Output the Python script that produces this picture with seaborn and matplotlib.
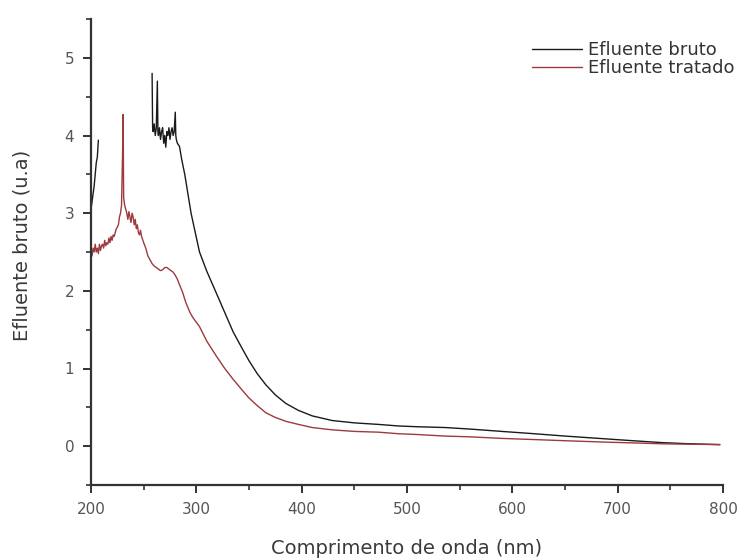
import numpy as np
import pandas as pd
import matplotlib
matplotlib.use("Agg")
import matplotlib.pyplot as plt
import seaborn as sns
from matplotlib.ticker import MultipleLocator

# ---- data ----
bruto_a_nm = [200, 201, 202, 203, 204, 205, 206, 207]
bruto_a_val = [3.05, 3.15, 3.25, 3.35, 3.5, 3.65, 3.72, 3.94]

bruto_b_nm = [258, 258.5, 259, 260, 261, 262, 263, 263.5, 264, 265, 266, 267, 268, 269,
              270, 271, 272, 273, 274, 275, 276, 277, 278, 279, 280, 280.5, 281, 282,
              284, 286, 289, 292, 295, 299, 303, 310, 319, 327, 335, 343, 350, 358,
              366, 375, 385, 397, 410, 429, 450, 473, 492, 510, 536, 560, 590, 621,
              650, 693, 720, 743, 770, 797]
bruto_b_val = [4.8, 4.1, 4.05, 4.15, 4.0, 4.1, 4.7, 4.05, 4.0, 4.1, 3.95, 4.05, 4.1, 3.9,
               4.0, 3.85, 4.05, 4.0, 4.1, 3.95, 4.05, 4.1, 4.0, 4.05, 4.3, 4.0, 3.95, 3.9,
               3.86, 3.7, 3.5, 3.25, 3.0, 2.75, 2.5, 2.25, 1.97, 1.72, 1.47, 1.27, 1.1, 0.93,
               0.79, 0.66, 0.55, 0.46, 0.39, 0.33, 0.3, 0.28, 0.26, 0.25, 0.24, 0.22, 0.19, 0.16,
               0.13, 0.09, 0.065, 0.045, 0.03, 0.02]

tratado_nm = [200, 201, 202, 203, 204, 205, 206, 207, 208, 209, 210, 211, 212, 213, 214,
              215, 216, 217, 218, 219, 220, 221, 222, 223, 224, 225, 226, 227, 228, 229,
              230, 230.5, 231, 232, 233, 234, 235, 236, 237, 238, 239, 240, 241, 242, 243,
              244, 245, 246, 247, 248, 250, 252, 254, 256, 258, 260, 262, 264, 266, 268,
              270, 272, 274, 276, 278, 280, 282, 284, 287, 290, 294, 297, 303, 310, 319,
              327, 335, 343, 350, 358, 366, 375, 385, 397, 410, 429, 450, 473, 492, 510,
              536, 560, 590, 621, 650, 693, 720, 743, 770, 797]
tratado_val = [2.5, 2.45, 2.55, 2.5, 2.6, 2.5, 2.55, 2.48, 2.6, 2.52, 2.58, 2.6, 2.55, 2.65, 2.58,
               2.62, 2.6, 2.68, 2.62, 2.7, 2.65, 2.72, 2.7, 2.75, 2.8, 2.82, 2.85, 2.95, 3.0, 3.1,
               3.8, 4.27, 3.2, 3.1, 3.05, 3.0, 2.92, 3.02, 2.95, 2.88, 3.0, 2.95, 2.85, 2.92, 2.8,
               2.85, 2.75, 2.72, 2.78, 2.7, 2.62, 2.55, 2.45, 2.4, 2.35, 2.32, 2.3, 2.28, 2.26, 2.27,
               2.3, 2.3, 2.28, 2.26, 2.24, 2.2, 2.15, 2.08, 1.98, 1.85, 1.72, 1.65, 1.54, 1.35, 1.16,
               1.0, 0.86, 0.73, 0.62, 0.52, 0.43, 0.37, 0.32, 0.28, 0.24, 0.21, 0.19, 0.18, 0.16, 0.15,
               0.13, 0.12, 0.1, 0.085, 0.07, 0.05, 0.04, 0.03, 0.025, 0.02]

x_ticks = [200, 300, 400, 500, 600, 700, 800]
y_ticks = [0, 1, 2, 3, 4, 5]

# ---- plot ----
sns.set_style("ticks")
plt.rcParams["font.family"] = ["DejaVu Sans"]

W, H = 746, 559
fig = plt.figure(figsize=(W / 100, H / 100), dpi=100)
ax = fig.add_axes([91 / W, 1 - 485 / H, (723 - 91) / W, (485 - 19) / H])

black = "#1a1a1a"
red = "#9c3a3e"

sns.lineplot(x=bruto_a_nm, y=bruto_a_val, ax=ax, color=black, lw=1.0, estimator=None, sort=False)
sns.lineplot(x=bruto_b_nm, y=bruto_b_val, ax=ax, color=black, lw=1.0, estimator=None, sort=False,
             label="Efluente bruto")
sns.lineplot(x=tratado_nm, y=tratado_val, ax=ax, color=red, lw=1.0, estimator=None, sort=False,
             label="Efluente tratado")

ax.set_xlim(200, 800)
ax.set_ylim(-0.5, 5.5)
ax.set_xticks(x_ticks)
ax.set_yticks(y_ticks)
ax.xaxis.set_minor_locator(MultipleLocator(50))
ax.yaxis.set_minor_locator(MultipleLocator(0.5))
ax.tick_params(axis="both", which="major", direction="out", length=6, width=1.4,
               labelsize=11, labelcolor="#555555", color="#333333", pad=6)
ax.tick_params(axis="both", which="minor", direction="out", length=3.5, width=1.2, color="#333333")

for s in ["top", "right"]:
    ax.spines[s].set_visible(False)
for s in ["left", "bottom"]:
    ax.spines[s].set_linewidth(1.6)
    ax.spines[s].set_color("#333333")

ax.set_xlabel("")
ax.set_ylabel("")
fig.text(407 / W, 1 - 548 / H, "Comprimento de onda (nm)", fontsize=14, color="#3a3a3a",
         ha="center", va="center")
fig.text(22 / W, 1 - 245 / H, "Efluente bruto (u.a)", fontsize=14, color="#3a3a3a",
         ha="center", va="center", rotation=90)

leg = ax.legend(loc="upper left", bbox_to_anchor=(532 / W, 1 - 41 / H),
                bbox_transform=fig.transFigure, frameon=False, fontsize=13,
                handlelength=2.75, handletextpad=0.35, labelspacing=0.0,
                borderpad=0, borderaxespad=0)
for t in leg.get_texts():
    t.set_color("#333333")

fig.savefig("out.png", dpi=100)
